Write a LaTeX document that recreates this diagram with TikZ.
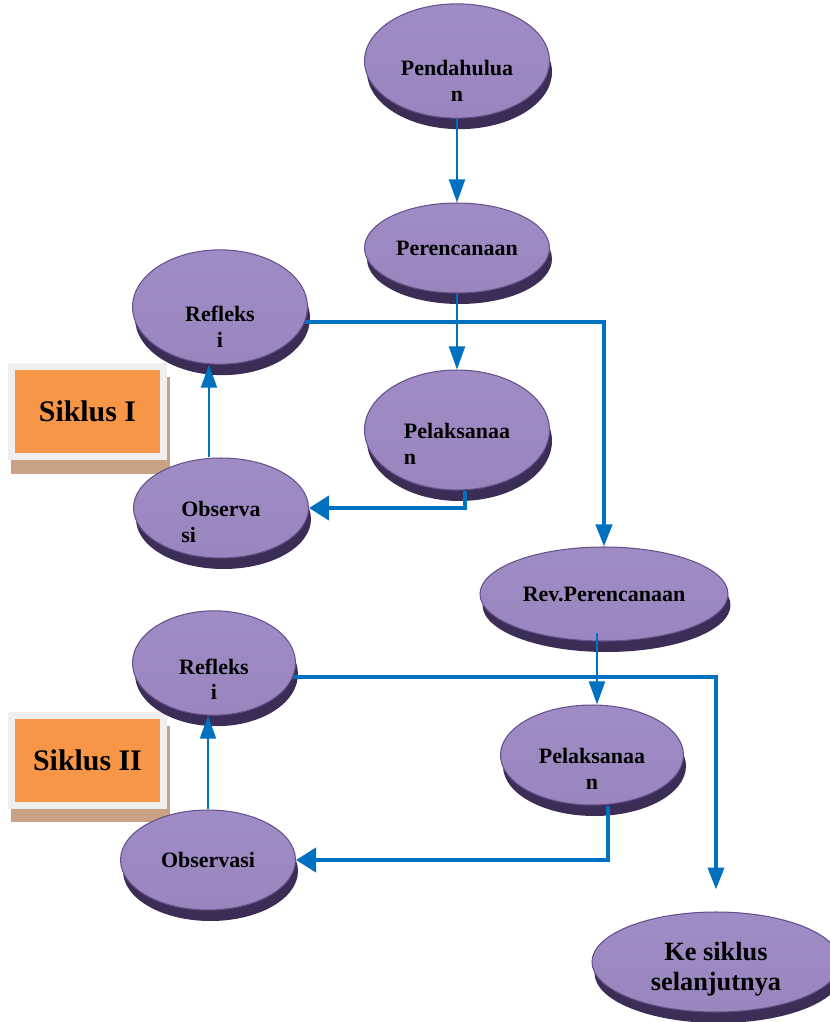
\documentclass[tikz,border=0pt]{standalone}
\usepackage{fontspec}
\setmainfont{Liberation Serif}
\usepackage{tikz}
\usetikzlibrary{shapes.geometric, arrows.meta, positioning, shadows, calc}
\definecolor{ellTop}{HTML}{A08CC4}
\definecolor{ellMid}{HTML}{73589B}
\definecolor{ellBot}{HTML}{9A85BE}
\definecolor{ellEdge}{HTML}{65508C}
\definecolor{ellShadow}{HTML}{3B2D55}
\definecolor{siklusOrange}{HTML}{F79646}
\definecolor{frameGray}{HTML}{EFEFEF}
\definecolor{shadowBrown}{HTML}{C9A185}
\definecolor{lineBlue}{HTML}{0070C0}
\tikzstyle{phase} = [ellipse, draw=ellEdge, line width=0.6pt, top color=ellTop, middle color=ellMid, bottom color=ellBot, inner sep=0pt, align=center, font=\bfseries\fontsize{12.5}{14.7}\selectfont, drop shadow={shadow xshift=0.05cm, shadow yshift=-0.22cm, fill=ellShadow, opacity=1}]
\tikzstyle{split} = [text height=39pt]
\tikzstyle{cycle} = [rectangle, fill=siklusOrange, draw=frameGray, line width=0.14cm, minimum width=3.04cm, minimum height=1.8cm, font=\bfseries\fontsize{17}{20}\selectfont, drop shadow={shadow xshift=0.06cm, shadow yshift=-0.28cm, fill=shadowBrown, draw=shadowBrown, line width=0.14cm, opacity=1}]
\tikzstyle{arrow} = [draw=lineBlue, line width=0.04cm, -{Triangle[length=0.46cm, width=0.32cm]}]
\tikzstyle{longarrow} = [draw=lineBlue, line width=0.08cm, -{Triangle[length=0.44cm, width=0.32cm]}]
\tikzstyle{thickarrow} = [draw=lineBlue, line width=0.08cm, -{Triangle[length=0.4cm, width=0.48cm]}]

\begin{document}
\begin{tikzpicture}[x=0.02cm, y=-0.02cm]
    \useasboundingbox (0,0) rectangle (830,1022);
    % Cycle labels
    \node (siklus1) [cycle] at (87.5,411.5) {Siklus I};
    \node (siklus2) [cycle] at (87.5,760) {Siklus II};

    % Nodes
    \node (pend) [phase, split, text height=46pt, minimum width=3.7cm, minimum height=2cm] at (457,61) {Pendahulua\\n};
    \node (pere) [phase, minimum width=3.7cm, minimum height=1.8cm] at (457,248) {Perencanaan};
    \node (refl1) [phase, split, text height=46pt, minimum width=3.5cm, minimum height=2.24cm] at (220,307) {Refleks\\i};
    \node (pel1) [phase, split, align=left, minimum width=3.7cm, minimum height=2.4cm] at (457,430) {Pelaksanaa\\n};
    \node (obs1) [phase, split, align=left, minimum width=3.5cm, minimum height=2cm] at (221,508) {Observa\\si};
    \node (revp) [phase, minimum width=4.96cm, minimum height=1.88cm] at (604,594) {Rev.Perencanaan};
    \node (refl2) [phase, split, text height=42pt, minimum width=3.26cm, minimum height=2cm] at (214,663) {Refleks\\i};
    \node (pel2) [phase, split, minimum width=3.66cm, minimum height=2cm] at (592,755) {Pelaksanaa\\n};
    \node (obs2) [phase, minimum width=3.5cm, minimum height=2cm] at (208,860) {Observasi};
    \node (next) [phase, text height=36pt, minimum width=4.96cm, minimum height=2cm, font=\bfseries\fontsize{15}{17}\selectfont] at (716,962) {Ke siklus\\selanjutnya};

    % Arrows
    \draw [arrow] (pend.south) -- (pere.north);
    \draw [arrow] (pere.south) -- (pel1.north);
    \draw [longarrow] (refl1.-10) -| (revp.north);
    \draw [thickarrow] ([xshift=0.16cm]pel1.south) |- (obs1.east);
    \draw [arrow] ([xshift=-0.24cm]obs1.north) -- ([xshift=-0.24cm]obs1.north |- refl1.south);
    \draw [arrow] ($(revp.south)+(-7,-9)$) -- ($(pel2.north)+(5,0)$);
    \draw [longarrow] (refl2.-10) -| ([yshift=0.44cm]next.north);
    \draw [thickarrow] ([xshift=0.32cm]pel2.south) |- (obs2.east);
    \draw [arrow] (obs2.north) -- (obs2.north |- refl2.south);
\end{tikzpicture}
\end{document}
